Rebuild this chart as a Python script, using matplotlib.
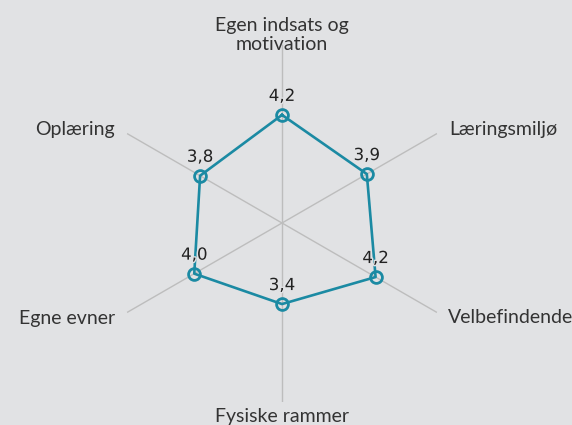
import numpy as np
import matplotlib
matplotlib.use("Agg")
import matplotlib.pyplot as plt
import matplotlib.patheffects as pe

categories = ["Egen indsats og\nmotivation", "Læringsmiljø", "Velbefindende",
              "Fysiske rammer", "Egne evner", "Oplæring"]
values = [4.2, 3.9, 4.2, 3.4, 4.0, 3.8]
value_labels = ["4,2", "3,9", "4,2", "3,4", "4,0", "3,8"]
r_min, r_max = 1.0, 6.3

bg = "#e1e2e4"
line_col = "#1b8aa3"

W, H, DPI = 572, 425, 100
fig = plt.figure(figsize=(W / DPI, H / DPI), dpi=DPI, facecolor=bg)
cx, cy, R = 282, 223, 179
ax = fig.add_axes([(cx - R) / W, (H - cy - R) / H, 2 * R / W, 2 * R / H], projection="polar")
ax.set_facecolor(bg)
ax.patch.set_alpha(0)
ax.set_theta_offset(np.pi / 2)
ax.set_theta_direction(-1)
ax.set_ylim(r_min, r_max)
ax.grid(False)
ax.spines["polar"].set_visible(False)
ax.set_xticks([])
ax.set_yticks([])

n = len(categories)
angles = np.arange(n) * 2 * np.pi / n

for a in angles:
    ax.plot([a, a], [r_min, r_max], color="#bdbdbd", lw=1, zorder=1, solid_capstyle="butt")

th = np.append(angles, angles[0])
vv = np.append(values, values[0])
ax.plot(th, vv, color=line_col, lw=1.9, zorder=3)
ax.plot(angles, values, ls="none", marker="o", ms=8.5, mfc="none", mec=line_col, mew=2, zorder=4)

px = 72 / DPI
for a, v, lab in zip(angles, values, value_labels):
    ax.annotate(lab, (a, v), xytext=(0, 10 * px), textcoords="offset points",
                ha="center", va="bottom", fontsize=12, color="#222222",
                family="DejaVu Sans", zorder=5,
                path_effects=[pe.withStroke(linewidth=2, foreground=bg)])

# category labels (pixel offsets from axis end)
offs = [(0, -9, "center", "bottom"),
        (12, 4, "left", "center"),
        (11, -5, "left", "center"),
        (0, -6, "center", "top"),
        (-12, -6, "right", "center"),
        (-12, 4, "right", "center")]
for a, lab, (dx, dy, ha, va) in zip(angles, categories, offs):
    ax.annotate(lab, (a, r_max), xytext=(dx * px, dy * px), textcoords="offset points",
                ha=ha, va=va, fontsize=14, color="#333333", family="Lato",
                linespacing=1.15, annotation_clip=False, zorder=6)

fig.savefig("out.png", dpi=DPI, facecolor=bg)
